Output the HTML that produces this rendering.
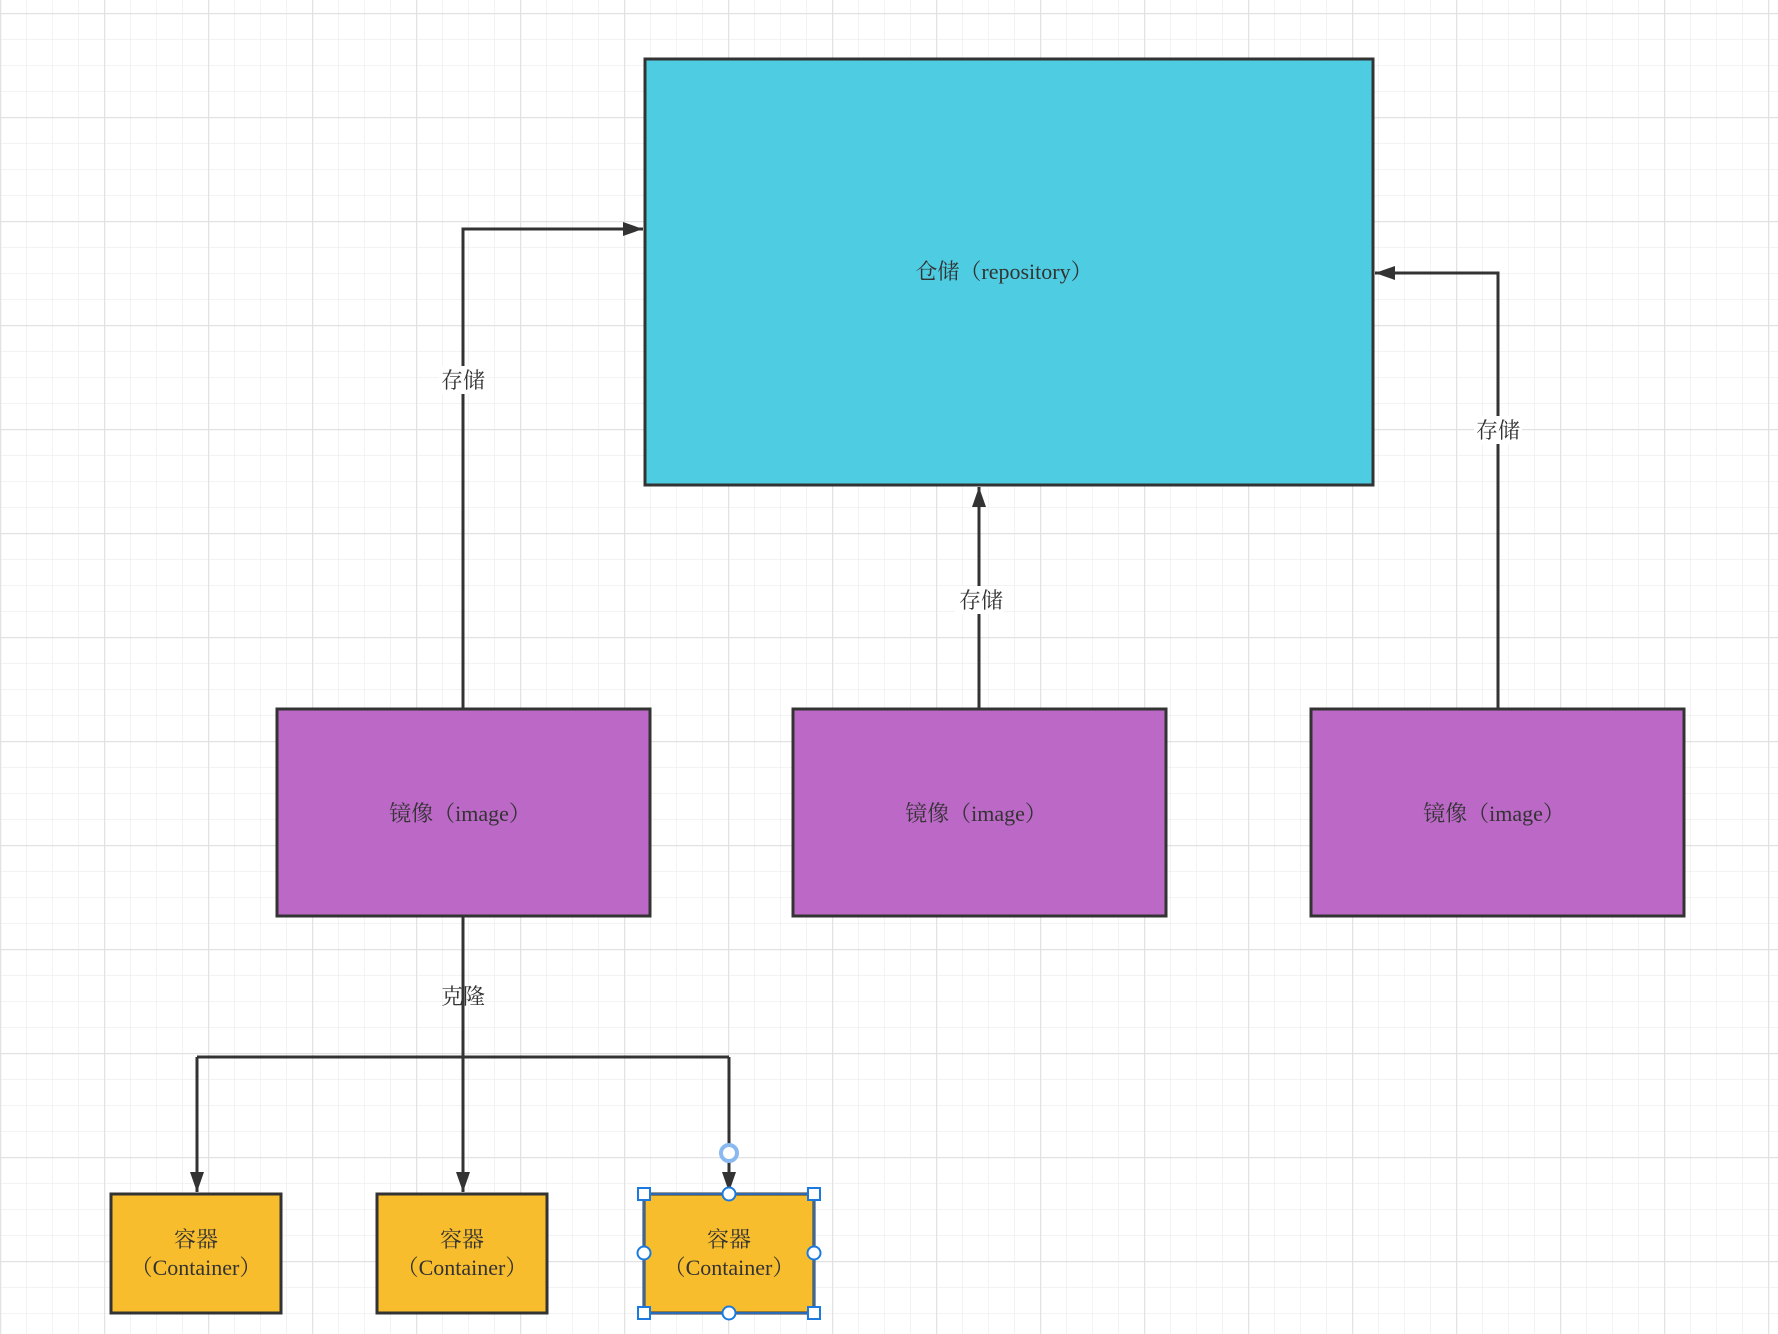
<!DOCTYPE html>
<html><head><meta charset="utf-8"><style>
html,body{margin:0;padding:0;background:#fff}
svg{display:block}
text{font-family:"Liberation Serif","Noto Serif CJK SC",serif;fill:#333;font-size:22px}
</style></head><body>
<svg width="1778" height="1334" viewBox="0 0 1778 1334" xmlns="http://www.w3.org/2000/svg">
<defs>
<pattern id="mi" width="26" height="26" patternUnits="userSpaceOnUse" x="0" y="13">
<path d="M0 0H26M0 0V26" stroke="#efefef" stroke-width="1.5" fill="none"/></pattern>
<pattern id="ma" width="104" height="104" patternUnits="userSpaceOnUse" x="0" y="13">
<path d="M0 0H104M0 0V104" stroke="#e2e2e2" stroke-width="2.5" fill="none"/></pattern>
<marker id="ah" viewBox="0 0 20 14" markerWidth="20" markerHeight="14" refX="20" refY="7" orient="auto" markerUnits="userSpaceOnUse"><path d="M0 0L20 7L0 14Z" fill="#333"/></marker>
</defs>
<rect width="1778" height="1334" fill="url(#mi)"/>
<rect width="1778" height="1334" fill="url(#ma)"/>

<rect x="645" y="59" width="728" height="426" fill="#4ecde2" stroke="#333" stroke-width="3"/>
<text x="1004" y="279" text-anchor="middle">仓储（repository）</text>

<g fill="#bb68c6" stroke="#333" stroke-width="3">
<rect x="277" y="709" width="373" height="207"/>
<rect x="793" y="709" width="373" height="207"/>
<rect x="1311" y="709" width="373" height="207"/>
</g>
<text x="460" y="821" text-anchor="middle">镜像（image）</text>
<text x="976" y="821" text-anchor="middle">镜像（image）</text>
<text x="1494" y="821" text-anchor="middle">镜像（image）</text>

<g stroke="#333" stroke-width="3" fill="none">
<path d="M463 709V229H643" marker-end="url(#ah)"/>
<path d="M979 709V487" marker-end="url(#ah)"/>
<path d="M1498 709V273H1375" marker-end="url(#ah)"/>
<path d="M463 916V1057"/>
<path d="M197 1057H729"/>
<path d="M197 1057V1192" marker-end="url(#ah)"/>
<path d="M463 1057V1192" marker-end="url(#ah)"/>
<path d="M729 1057V1192" marker-end="url(#ah)"/>
</g>
<g fill="#fff">
<rect x="439" y="366" width="48" height="28"/>
<rect x="955" y="586" width="48" height="28"/>
<rect x="1474" y="416" width="48" height="28"/>
</g>
<text x="463" y="388" text-anchor="middle">存储</text>
<text x="981" y="608" text-anchor="middle">存储</text>
<text x="1498" y="438" text-anchor="middle">存储</text>
<text x="463" y="1004" text-anchor="middle">克隆</text>

<g fill="#f8bd2c" stroke="#333" stroke-width="3">
<rect x="111" y="1194" width="170" height="119"/>
<rect x="377" y="1194" width="170" height="119"/>
<rect x="644" y="1194" width="170" height="119"/>
</g>
<g text-anchor="middle">
<text x="196" y="1247">容器</text><text x="196" y="1275">（Container）</text>
<text x="462" y="1247">容器</text><text x="462" y="1275">（Container）</text>
<text x="729" y="1247">容器</text><text x="729" y="1275">（Container）</text>
</g>
<rect x="644" y="1194" width="170" height="119" fill="none" stroke="#2a7de1" stroke-width="1.5"/>
<circle cx="729" cy="1153" r="8" fill="#fff" stroke="#8ab8f0" stroke-width="4"/>
<g fill="#fff" stroke="#1a7ae0" stroke-width="2">
<rect x="638" y="1188" width="12" height="12"/><rect x="808" y="1188" width="12" height="12"/>
<rect x="638" y="1307" width="12" height="12"/><rect x="808" y="1307" width="12" height="12"/>
<circle cx="729" cy="1194" r="6.5"/><circle cx="729" cy="1313" r="6.5"/>
<circle cx="644" cy="1253" r="6.5"/><circle cx="814" cy="1253" r="6.5"/>
</g>
</svg>
</body></html>
